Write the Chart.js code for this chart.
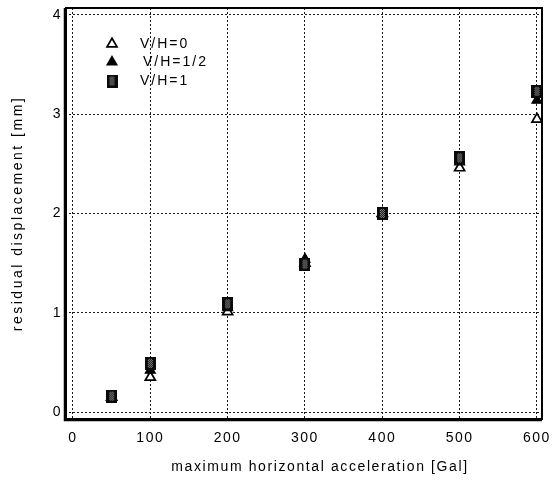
<!DOCTYPE html>
<html>
<head>
<meta charset="utf-8">
<script src="https://cdn.jsdelivr.net/npm/chart.js@4.4.1/dist/chart.umd.min.js"></script>
<style>
  html, body { margin: 0; padding: 0; background: #ffffff; }
  #wrap { width: 552px; height: 484px; }
</style>
</head>
<body>
<div id="wrap"><canvas id="chart" width="552" height="484"></canvas></div>
<script>
// Peak horizontal acceleration of each shaking test [Gal]
const accel = [50, 100, 200, 300, 400, 500, 600];
// Residual displacement [mm] for each vertical/horizontal ratio
const dispVH0  = [0.15, 0.35, 1.01, 1.50, 2.00, 2.46, 2.95];
const dispVH05 = [0.15, 0.42, 1.05, 1.54, 2.00, 2.52, 3.14];
const dispVH1  = [0.16, 0.49, 1.09, 1.49, 2.00, 2.56, 3.23];
const seriesNames = ['V/H=0', 'V/H=1/2', 'V/H=1'];
const xTicks = [0, 100, 200, 300, 400, 500, 600];
const yTicks = [0, 1, 2, 3, 4];
const xTitle = 'maximum horizontal acceleration [Gal]';
const yTitle = 'residual displacement [mm]';

const FONT = '"Liberation Sans", Arial, sans-serif';

// Dark square marker with a light cross-hatched centre
function hatchedSquare() {
  const c = document.createElement('canvas');
  c.width = 11; c.height = 13;
  const g = c.getContext('2d');
  g.fillStyle = '#0a0a0a';
  g.fillRect(0, 0, 11, 13);
  for (let y = 2; y < 11; y++) {
    for (let x = 3; x < 8; x++) {
      if ((x + y) % 2 === 0) { g.fillStyle = '#8c8c8c'; g.fillRect(x, y, 1, 1); }
    }
  }
  return c;
}
const squareMark = hatchedSquare();

const toPoints = vals => accel.map((x, i) => ({ x: x, y: vals[i] }));

const datasets = [
  { label: seriesNames[0], data: toPoints(dispVH0), pointStyle: 'triangle', pointRadius: 5.8,
    backgroundColor: '#ffffff', borderColor: '#000000', borderWidth: 1.7, order: 2 },
  { label: seriesNames[1], data: toPoints(dispVH05), pointStyle: 'triangle', pointRadius: 5.8,
    backgroundColor: '#000000', borderColor: '#000000', borderWidth: 1.2, order: 1 },
  { label: seriesNames[2], data: toPoints(dispVH1), pointStyle: squareMark, pointRadius: 6,
    backgroundColor: '#111111', borderColor: '#111111', borderWidth: 0, order: 0 }
];

// Keep the plot frame fixed: no extra room reserved for overhanging end labels
function fixAxisBox(size, key) {
  return s => {
    s[key] = size;
    s.paddingLeft = 0; s.paddingRight = 0; s.paddingTop = 0; s.paddingBottom = 0;
  };
}

// Text spacing, outer frame, in-plot legend and axis titles
const decor = {
  id: 'decor',
  beforeDraw(chart) {
    chart.ctx.letterSpacing = '1.5px';
  },
  beforeDatasetsDraw(chart) {
    const { ctx, chartArea: a } = chart;
    ctx.save();
    ctx.strokeStyle = '#000000';
    ctx.lineWidth = 2;
    ctx.strokeRect(a.left + 1, a.top, a.right - a.left - 1, a.bottom - a.top);
    ctx.lineWidth = 1.5;
    ctx.beginPath();
    ctx.moveTo(a.left - 0.5, a.top); ctx.lineTo(a.left - 0.5, a.bottom + 1.5);
    ctx.lineTo(a.right, a.bottom + 1.5);
    ctx.stroke();
    ctx.restore();
  },
  afterDraw(chart) {
    const { ctx, chartArea: a } = chart;
    ctx.save();
    // legend
    const rowsY = [a.top + 36, a.top + 54, a.top + 73];
    const textX = [a.left + 75, a.left + 78, a.left + 75];
    chart.data.datasets.forEach((ds, i) => {
      ctx.fillStyle = ds.backgroundColor;
      ctx.strokeStyle = ds.borderColor;
      ctx.lineWidth = ds.borderWidth;
      Chart.helpers.drawPoint(ctx, { pointStyle: ds.pointStyle, radius: ds.pointRadius,
        borderWidth: ds.borderWidth, rotation: 0 }, a.left + 47, rowsY[i]);
      ctx.fillStyle = '#000000';
      ctx.font = '14px ' + FONT;
      ctx.letterSpacing = '2px';
      ctx.textAlign = 'left';
      ctx.textBaseline = 'middle';
      ctx.fillText(ds.label, textX[i], rowsY[i]);
    });
    // axis titles
    ctx.fillStyle = '#000000';
    ctx.textAlign = 'center';
    ctx.textBaseline = 'middle';
    ctx.font = '14px ' + FONT;
    ctx.letterSpacing = '1.6px';
    ctx.fillText(xTitle, 320, 467);
    ctx.translate(18, (a.top + a.bottom) / 2);
    ctx.rotate(-Math.PI / 2);
    ctx.letterSpacing = '2.5px';
    ctx.fillText(yTitle, 0, 0);
    ctx.restore();
  }
};

new Chart(document.getElementById('chart'), {
  type: 'scatter',
  data: { datasets: datasets },
  options: {
    responsive: false,
    animation: false,
    devicePixelRatio: 1,
    layout: { padding: { top: 8, right: 10, left: 0, bottom: 0 } },
    plugins: { legend: { display: false }, tooltip: { enabled: false } },
    scales: {
      x: {
        type: 'linear', min: -10.3, max: 606.5,
        afterBuildTicks: s => { s.ticks = xTicks.map(v => ({ value: v })); },
        afterFit: fixAxisBox(65, 'height'),
        grid: { color: '#1a1a1a', lineWidth: 1, drawTicks: false },
        border: { display: false, dash: [2, 2] },
        ticks: { color: '#000000', padding: 11, font: { family: FONT, size: 14 } }
      },
      y: {
        type: 'linear', min: -0.07, max: 4.07,
        afterBuildTicks: s => { s.ticks = yTicks.map(v => ({ value: v })); },
        afterFit: fixAxisBox(65, 'width'),
        grid: { color: '#1a1a1a', lineWidth: 1, drawTicks: false },
        border: { display: false, dash: [2, 2] },
        ticks: { color: '#000000', padding: 3, font: { family: FONT, size: 14 } }
      }
    }
  },
  plugins: [decor]
});
</script>
</body>
</html>
